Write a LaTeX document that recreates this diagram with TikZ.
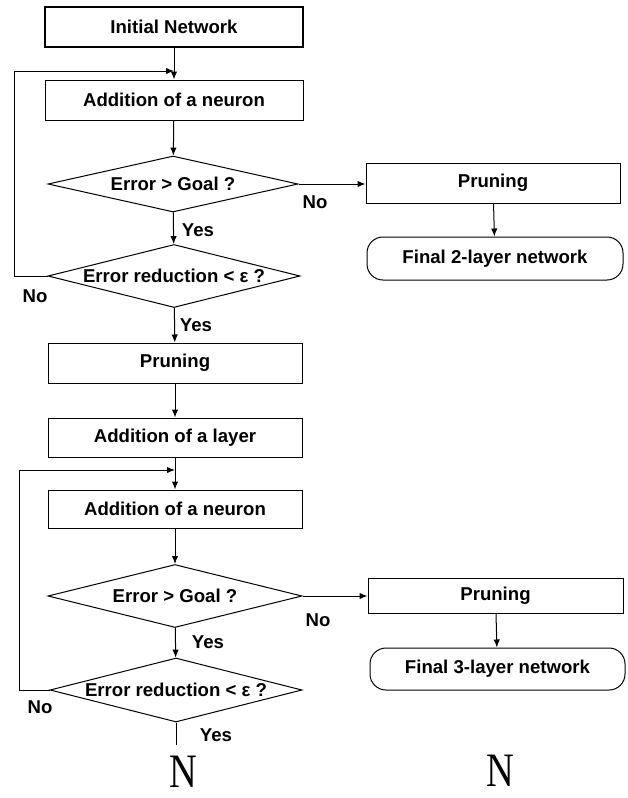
\documentclass[tikz,border=0pt]{standalone}
\usepackage{fontspec}
\setmainfont{Liberation Sans}
\newfontfamily\serifN{Liberation Serif}
\usetikzlibrary{arrows.meta}
\usetikzlibrary{shapes}
\tikzset{every picture/.style={line width=0.5pt, >={Latex[length=4pt,width=3.2pt]}}}
\tikzstyle{block}=[draw,minimum width=128pt,minimum height=20pt,inner sep=0pt,font=\fontsize{9.3}{11}\selectfont\bfseries]
\tikzstyle{terminal}=[block,rounded corners=8pt]
\tikzstyle{decision}=[draw,diamond,aspect=4,inner sep=0pt,font=\fontsize{9.3}{11}\selectfont\bfseries]
\tikzstyle{tag}=[inner sep=0pt,font=\fontsize{9.3}{11}\selectfont\bfseries]
\tikzstyle{glyph}=[inner sep=0pt,font=\serifN\fontsize{24}{24}\selectfont]
\newcommand{\dtext}[1]{\makebox[0pt]{#1}}

\begin{document}
\begin{tikzpicture}[x=0.5pt,y=-0.5pt]
        \useasboundingbox (0,0) rectangle (627,798);
        % first stage: neurons in the hidden layer
        \node [block,line width=1.1pt,minimum width=129pt] (init) at (174,27) {Initial Network};
        \node [block,minimum width=129pt] (add1) at (174,100) {Addition of a neuron};
        \node [decision,minimum width=125pt,minimum height=28pt] (dec1) at (173,184) {\dtext{Error > Goal ?}};
        \node [decision,minimum width=126pt,minimum height=31.5pt] (dec2) at (174,276) {\dtext{Error reduction < ε ?}};
        \node [block,minimum width=127pt] (prune1) at (175,363) {Pruning};
        \node [block,minimum width=127pt,minimum height=19.5pt] (layer) at (175,437.5) {Addition of a layer};
        % second stage: neurons in the new layer
        \node [block,minimum width=127pt,minimum height=19pt] (add2) at (175,509) {Addition of a neuron};
        \node [decision,minimum width=127pt,minimum height=31.5pt] (dec3) at (175,596) {\dtext{Error > Goal ?}};
        \node [decision,minimum width=126pt,minimum height=32pt] (dec4) at (176,690) {\dtext{Error reduction < ε ?}};
        % exits to the right
        \node [block,minimum width=127pt] (pruneA) at (493,183) {Pruning};
        \node [terminal,minimum width=128pt,minimum height=21.5pt] (final2) at (495,258.5) {Final 2-layer network};
        \node [block,minimum width=127.5pt,minimum height=17.5pt] (pruneB) at (495.5,595.5) {Pruning};
        \node [terminal,minimum width=127.5pt,minimum height=21pt] (final3) at (497.5,669) {Final 3-layer network};
        % branch labels
        \node [tag] (yes1) at (198,230) {Yes};
        \node [tag] (yes2) at (196,325) {Yes};
        \node [tag] (yes3) at (208,642) {Yes};
        \node [tag] (yes4) at (216,735) {Yes};
        \node [tag] (no1) at (315,202) {No};
        \node [tag] (no2) at (35,296) {No};
        \node [tag] (no3) at (318,620) {No};
        \node [tag] (no4) at (40,707) {No};
        \node [glyph] (nA) at (183,772) {\scalebox{0.8}[1]{N}};
        \node [glyph] (nB) at (500,771) {\scalebox{0.8}[1]{N}};
        % loop-back points
        \coordinate (join1) at (174,71);
        \coordinate (turn1) at (14,276);
        \coordinate (join2) at (175,470);
        \coordinate (turn2) at (19,690);
        \coordinate (exit) at (176,745);
        % connectors
        \draw [->] (init) -- (add1);
        \draw [->] (add1) -- (dec1);
        \draw [->] (dec1) -- (dec2);
        \draw [->] (dec2) -- (prune1);
        \draw [->] (prune1) -- (layer);
        \draw [->] (layer) -- (add2);
        \draw [->] (add2) -- (dec3);
        \draw [->] (dec3) -- (dec4);
        \draw (dec4.south) -- (exit);
        \draw [->] (dec1.east) -- (pruneA.west |- dec1.east);
        \draw [->] (pruneA) -- (final2);
        \draw [->] (dec3.east) -- (pruneB.west |- dec3.east);
        \draw [->] (pruneB) -- (final3);
        \draw [->] (dec2.west) -- (turn1) |- (join1);
        \draw [->] (dec4.west) -- (turn2) |- (join2);
\end{tikzpicture}
\end{document}
